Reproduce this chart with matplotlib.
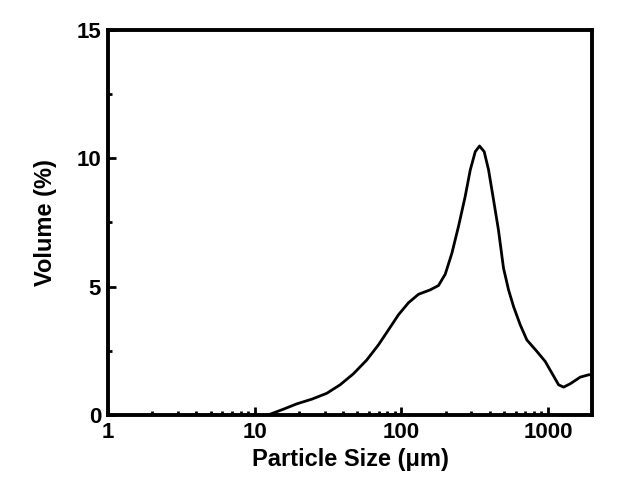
import matplotlib
matplotlib.use("Agg")
import matplotlib.pyplot as plt
from matplotlib.ticker import LogLocator, MultipleLocator, FixedFormatter, FixedLocator

plt.rcParams['font.family'] = ['Liberation Sans', 'DejaVu Sans']
plt.rcParams['font.weight'] = 'bold'

# particle size distribution
size_um = [12.4, 15.7, 19.4, 24.5, 31, 38.2, 47.1, 58.1, 69.8, 81.6, 95.5,
           111.8, 130.9, 157, 179, 199, 221, 245, 272, 295, 319, 341, 367,
           393, 425, 459, 497, 538, 582, 646, 717, 840, 957, 1064, 1181,
           1277, 1416, 1659, 1890, 2000]
volume_pct = [0.0, 0.22, 0.43, 0.61, 0.84, 1.17, 1.6, 2.14, 2.73, 3.31, 3.9,
              4.37, 4.70, 4.87, 5.04, 5.48, 6.3, 7.34, 8.5, 9.55, 10.26, 10.48,
              10.26, 9.55, 8.38, 7.21, 5.72, 4.87, 4.22, 3.51, 2.92, 2.47, 2.08,
              1.62, 1.17, 1.08, 1.21, 1.47, 1.56, 1.57]

x_ticks = [1, 10, 100, 1000]
x_labels = ['1', '10', '100', '1000']
y_ticks = [0, 5, 10, 15]

fig = plt.figure(figsize=(6.32, 5.01), dpi=100)
ax = fig.add_axes([0.171, 0.172, 0.766, 0.768])

ax.plot(size_um, volume_pct, color='black', lw=2.0, solid_capstyle='round',
        solid_joinstyle='round')

ax.set_xscale('log')
ax.set_xlim(1, 2000)
ax.set_ylim(0, 15)

ax.xaxis.set_major_locator(FixedLocator(x_ticks))
ax.xaxis.set_major_formatter(FixedFormatter(x_labels))
ax.xaxis.set_minor_locator(LogLocator(base=10, subs=range(2, 10), numticks=20))
ax.yaxis.set_major_locator(FixedLocator(y_ticks))
ax.yaxis.set_minor_locator(MultipleLocator(2.5))

ax.tick_params(which='both', direction='in', top=False, right=False, width=2, labelsize=16, pad=5)
ax.tick_params(which='major', length=6)
ax.tick_params(which='minor', length=3, labelleft=False, labelbottom=False)
for lab in ax.get_xticklabels() + ax.get_yticklabels():
    lab.set_fontweight('bold')

for sp in ax.spines.values():
    sp.set_linewidth(2.8)

ax.set_xlabel('Particle Size (\u03bcm)', fontsize=17, fontweight='bold', labelpad=4)
ax.set_ylabel('Volume (%)', fontsize=17, fontweight='bold', labelpad=14)

fig.savefig('out.png', dpi=100)
